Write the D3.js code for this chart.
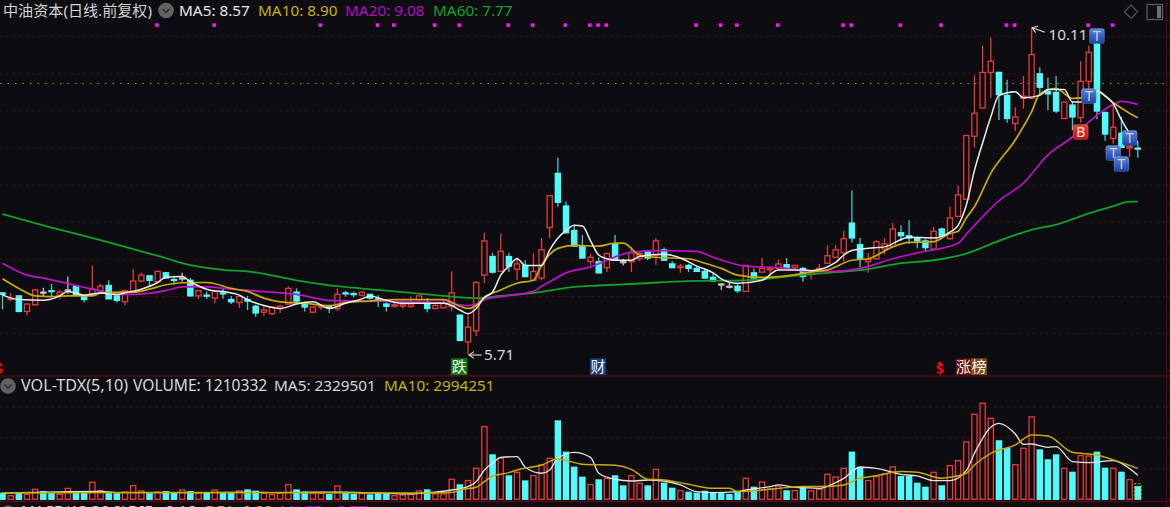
<!DOCTYPE html>
<html>

<head>
  <meta charset='utf-8'>
  <script type="text/javascript" src="https://cdn.jsdelivr.net/npm/d3@7"></script>
  <style>
    html, body { margin: 0; padding: 0; background: #0d0d11; overflow: hidden; }
    svg { display: block; }
    text { font-family: "Noto Sans", "Noto Sans CJK SC", sans-serif; }
  </style>
</head>

<body>
</body>
<script>
  let opens = [
    6.54, 6.45, 6.50, 6.29, 6.38, 6.55, 6.57, 6.51, 6.58, 6.63,
    6.49, 6.53, 6.57, 6.64, 6.50, 6.42, 6.55, 6.70, 6.77, 6.69,
    6.81, 6.72, 6.74, 6.71, 6.50, 6.51, 6.47, 6.54, 6.45, 6.41,
    6.45, 6.36, 6.28, 6.26, 6.33, 6.39, 6.55, 6.41, 6.28, 6.35,
    6.36, 6.33, 6.54, 6.53, 6.51, 6.52, 6.46, 6.39, 6.36, 6.36,
    6.36, 6.45, 6.41, 6.33, 6.34, 6.36, 6.24, 5.88, 6.03, 6.78,
    7.03, 6.83, 7.03, 6.86, 6.91, 6.71, 6.74, 7.42, 8.15, 7.71,
    7.38, 7.17, 6.96, 6.96, 6.88, 7.20, 6.96, 6.96, 7.00, 7.09,
    7.05, 7.12, 6.93, 6.88, 6.91, 6.87, 6.83, 6.75, 6.66, 6.63,
    6.63, 6.56, 6.81, 6.82, 6.85, 6.87, 6.92, 6.88, 6.87, 6.79,
    6.83, 6.94, 7.02, 7.08, 7.48, 7.19, 6.96, 7.00, 7.13, 7.17,
    7.35, 7.31, 7.28, 7.24, 7.13, 7.40, 7.27, 7.57, 7.80, 8.65,
    9.03, 9.51, 9.51, 9.20, 8.82, 9.16, 9.16, 9.49, 9.25, 9.24,
    8.89, 9.07, 8.90, 9.39, 9.89, 8.97, 8.62, 8.69, 8.49, 8.49
  ]
  let closes = [
    6.52, 6.47, 6.29, 6.39, 6.58, 6.55, 6.56, 6.55, 6.58, 6.52,
    6.45, 6.59, 6.63, 6.46, 6.44, 6.57, 6.70, 6.78, 6.71, 6.83,
    6.74, 6.71, 6.74, 6.50, 6.57, 6.50, 6.56, 6.53, 6.42, 6.49,
    6.43, 6.27, 6.31, 6.35, 6.36, 6.60, 6.43, 6.35, 6.35, 6.36,
    6.34, 6.52, 6.53, 6.52, 6.55, 6.47, 6.43, 6.36, 6.38, 6.38,
    6.39, 6.50, 6.33, 6.37, 6.41, 6.54, 5.90, 6.08, 6.68, 7.24,
    6.82, 7.10, 6.90, 6.93, 6.76, 6.83, 7.12, 7.85, 7.76, 7.35,
    7.17, 7.01, 7.02, 6.81, 7.07, 6.98, 6.96, 7.08, 7.07, 7.01,
    7.24, 6.98, 6.88, 6.90, 6.87, 6.83, 6.74, 6.70, 6.66, 6.63,
    6.57, 6.91, 6.74, 6.87, 6.87, 6.93, 6.87, 6.91, 6.76, 6.83,
    6.87, 7.04, 7.12, 7.27, 7.28, 7.00, 6.99, 7.23, 7.20, 7.40,
    7.31, 7.28, 7.24, 7.15, 7.37, 7.31, 7.55, 7.86, 8.66, 8.96,
    9.51, 9.66, 9.21, 8.89, 8.91, 9.19, 9.75, 9.31, 9.22, 8.99,
    9.11, 8.91, 9.39, 9.78, 8.99, 8.68, 8.77, 8.50, 8.51, 8.48
  ]
  let highs = [
    6.55, 6.54, 6.51, 6.40, 6.59, 6.61, 6.66, 6.58, 6.76, 6.64,
    6.52, 6.91, 6.66, 6.71, 6.53, 6.58, 6.86, 6.81, 6.77, 6.84,
    6.82, 6.77, 6.81, 6.74, 6.58, 6.56, 6.58, 6.60, 6.50, 6.50,
    6.50, 6.38, 6.36, 6.36, 6.38, 6.63, 6.60, 6.42, 6.35, 6.38,
    6.38, 6.60, 6.57, 6.56, 6.56, 6.53, 6.51, 6.41, 6.42, 6.42,
    6.49, 6.50, 6.47, 6.42, 6.44, 6.83, 6.25, 6.24, 6.70, 7.35,
    7.08, 7.34, 7.08, 7.02, 6.98, 7.07, 7.28, 7.85, 8.36, 7.77,
    7.45, 7.32, 7.07, 7.02, 7.08, 7.32, 7.00, 7.16, 7.09, 7.12,
    7.28, 7.15, 6.97, 6.93, 6.93, 6.90, 6.87, 6.82, 6.67, 6.69,
    6.66, 6.92, 6.87, 7.01, 6.90, 6.99, 7.01, 6.92, 6.89, 6.85,
    6.93, 7.18, 7.18, 7.38, 7.92, 7.28, 7.08, 7.25, 7.28, 7.48,
    7.45, 7.52, 7.30, 7.27, 7.43, 7.42, 7.70, 7.99, 8.67, 9.47,
    9.87, 9.98, 9.52, 9.41, 9.04, 9.46, 10.11, 9.58, 9.44, 9.46,
    9.12, 9.12, 9.66, 9.87, 9.95, 8.98, 9.09, 8.91, 8.58, 8.58
  ]
  let lows = [
    6.32, 6.43, 6.28, 6.24, 6.37, 6.49, 6.49, 6.46, 6.53, 6.50,
    6.41, 6.52, 6.53, 6.46, 6.41, 6.37, 6.55, 6.69, 6.63, 6.68,
    6.73, 6.65, 6.69, 6.49, 6.46, 6.46, 6.40, 6.46, 6.39, 6.34,
    6.31, 6.22, 6.23, 6.24, 6.27, 6.38, 6.40, 6.29, 6.27, 6.31,
    6.27, 6.30, 6.49, 6.48, 6.49, 6.45, 6.35, 6.29, 6.34, 6.33,
    6.34, 6.43, 6.28, 6.32, 6.33, 6.30, 5.89, 5.71, 5.96, 6.67,
    6.80, 6.82, 6.82, 6.71, 6.75, 6.70, 6.71, 7.28, 7.70, 7.34,
    7.16, 7.00, 6.91, 6.80, 6.82, 6.97, 6.91, 6.82, 6.97, 6.98,
    6.92, 6.97, 6.88, 6.81, 6.82, 6.82, 6.74, 6.70, 6.58, 6.60,
    6.54, 6.56, 6.74, 6.82, 6.78, 6.85, 6.87, 6.84, 6.69, 6.72,
    6.81, 6.93, 7.01, 6.96, 7.22, 6.89, 6.81, 6.99, 7.06, 7.16,
    7.24, 7.20, 7.14, 7.09, 7.12, 7.30, 7.26, 7.56, 7.79, 8.50,
    9.02, 9.16, 8.87, 8.83, 8.72, 9.02, 9.16, 9.22, 9.00, 8.96,
    8.88, 8.73, 8.83, 9.21, 8.88, 8.59, 8.55, 8.49, 8.37, 8.36
  ]
  // volume, unit 10k
  let volumes = [
    58, 35, 58, 48, 97, 74, 58, 48, 106, 58,
    58, 165, 84, 65, 52, 71, 132, 81, 52, 71,
    74, 58, 90, 74, 58, 58, 90, 65, 58, 81,
    90, 77, 58, 45, 58, 142, 90, 68, 58, 58,
    45, 129, 58, 45, 55, 42, 52, 52, 35, 42,
    48, 81, 90, 52, 52, 194, 139, 181, 300, 703,
    429, 397, 226, 261, 177, 229, 332, 397, 758, 455,
    310, 213, 142, 187, 203, 226, 129, 229, 155, 129,
    290, 155, 106, 84, 68, 58, 77, 65, 55, 45,
    77, 203, 116, 168, 100, 129, 81, 84, 106, 81,
    97, 242, 216, 300, 455, 310, 181, 219, 245, 313,
    219, 219, 155, 116, 261, 129, 326, 374, 555, 823,
    929, 784, 565, 490, 335, 494, 797, 477, 381, 429,
    300, 261, 423, 419, 455, 300, 300, 261, 190, 121
  ]

  let ma5Days = [0, 2, 5, 7, 8, 10, 12, 14, 15, 17, 19, 20, 22, 23, 25, 28, 29, 30, 32, 34, 36, 38, 40, 42, 44, 45, 47, 49, 51, 54, 55, 56, 57, 58, 59, 60, 61, 62, 63, 64, 66, 67, 68, 69, 70, 71, 72, 73, 74, 75, 77, 78, 81, 83, 85, 87, 88, 90, 93, 95, 98, 99, 102, 103, 104, 106, 108, 111, 114, 116, 117, 118, 119, 120, 121, 122, 124, 125, 127, 128, 130, 131, 133, 134, 135, 136, 137, 138, 139]
  let ma5 = [6.51, 6.45, 6.44, 6.50, 6.56, 6.51, 6.54, 6.52, 6.54, 6.59, 6.68, 6.75, 6.76, 6.69, 6.59, 6.54, 6.51, 6.45, 6.37, 6.33, 6.39, 6.42, 6.33, 6.40, 6.46, 6.50, 6.44, 6.40, 6.40, 6.40, 6.37, 6.31, 6.26, 6.33, 6.48, 6.55, 6.78, 6.90, 7.00, 6.91, 6.91, 7.12, 7.28, 7.38, 7.45, 7.44, 7.24, 7.05, 7.00, 6.98, 6.98, 7.03, 7.06, 7.01, 6.90, 6.81, 6.73, 6.67, 6.71, 6.85, 6.85, 6.84, 6.95, 7.05, 7.11, 7.14, 7.16, 7.29, 7.28, 7.36, 7.45, 7.72, 8.19, 8.56, 8.91, 9.20, 9.25, 9.17, 9.20, 9.28, 9.28, 9.11, 9.11, 9.26, 9.19, 9.09, 8.87, 8.69, 8.57]

  let ma10Days = [0, 2, 4, 6, 8, 11, 12, 15, 16, 18, 20, 23, 25, 28, 30, 32, 34, 37, 40, 42, 45, 48, 54, 56, 57, 58, 59, 61, 62, 63, 65, 66, 67, 68, 70, 73, 75, 76, 78, 80, 84, 86, 88, 90, 93, 96, 99, 101, 104, 106, 109, 111, 114, 116, 117, 118, 119, 121, 124, 126, 127, 129, 131, 133, 134, 136, 138, 139]
  let ma10 = [6.73, 6.60, 6.50, 6.49, 6.50, 6.50, 6.54, 6.55, 6.55, 6.59, 6.65, 6.68, 6.68, 6.60, 6.56, 6.47, 6.42, 6.40, 6.37, 6.41, 6.43, 6.45, 6.45, 6.36, 6.33, 6.37, 6.48, 6.58, 6.63, 6.67, 6.71, 6.91, 7.06, 7.14, 7.18, 7.17, 7.21, 7.21, 7.05, 7.02, 7.00, 6.94, 6.87, 6.78, 6.75, 6.77, 6.82, 6.85, 6.98, 7.00, 7.16, 7.22, 7.23, 7.34, 7.37, 7.55, 7.70, 8.15, 8.60, 8.98, 9.22, 9.29, 9.16, 9.18, 9.26, 9.10, 8.96, 8.90]

  let ma20Days = [0, 3, 5, 9, 11, 14, 16, 20, 22, 25, 28, 33, 36, 40, 45, 49, 54, 57, 58, 59, 61, 65, 66, 67, 69, 72, 74, 77, 81, 85, 87, 89, 91, 95, 99, 102, 105, 109, 112, 117, 118, 122, 125, 128, 131, 133, 136, 137, 139]
  let ma20 = [6.94, 6.78, 6.74, 6.64, 6.59, 6.52, 6.52, 6.57, 6.62, 6.62, 6.59, 6.55, 6.52, 6.44, 6.43, 6.42, 6.41, 6.37, 6.39, 6.45, 6.49, 6.56, 6.63, 6.69, 6.81, 6.89, 6.98, 7.09, 7.11, 7.10, 7.02, 6.95, 6.90, 6.88, 6.83, 6.83, 6.87, 7.00, 7.08, 7.21, 7.33, 7.78, 8.02, 8.40, 8.64, 8.84, 9.08, 9.12, 9.08]

  let ma60Days = [0, 6, 12, 17, 20, 22, 27, 30, 36, 41, 46, 50, 55, 58, 61, 65, 68, 70, 73, 77, 84, 91, 96, 101, 106, 110, 114, 118, 122, 126, 129, 133, 136, 138, 139]
  let ma60 = [7.60, 7.42, 7.25, 7.10, 7.01, 6.94, 6.85, 6.83, 6.71, 6.63, 6.58, 6.54, 6.49, 6.47, 6.50, 6.54, 6.59, 6.62, 6.64, 6.66, 6.70, 6.71, 6.76, 6.81, 6.86, 6.94, 6.98, 7.07, 7.24, 7.39, 7.46, 7.61, 7.71, 7.77, 7.77]

  let volMa5Days = [0, 12, 14, 25, 30, 33, 38, 42, 47, 50, 52, 55, 57, 58, 59, 60, 61, 63, 64, 66, 67, 68, 70, 72, 73, 75, 77, 79, 81, 83, 85, 87, 90, 91, 94, 95, 97, 98, 100, 102, 103, 105, 107, 110, 112, 114, 116, 118, 119, 121, 122, 124, 125, 126, 128, 129, 131, 133, 136, 137, 139]
  let volMa5 = [60, 77, 65, 65, 68, 65, 68, 68, 58, 52, 62, 90, 123, 171, 284, 348, 406, 413, 310, 252, 284, 397, 455, 406, 252, 194, 177, 187, 177, 139, 74, 65, 74, 90, 123, 139, 116, 113, 106, 161, 203, 310, 300, 242, 226, 181, 181, 277, 445, 697, 735, 632, 532, 535, 503, 510, 365, 355, 374, 348, 233]

  let volMa10Days = [0, 25, 50, 55, 56, 58, 59, 60, 62, 63, 66, 68, 71, 75, 77, 79, 81, 84, 87, 89, 90, 94, 96, 98, 100, 103, 105, 107, 110, 112, 115, 116, 118, 119, 121, 124, 126, 128, 131, 134, 136, 137, 139]
  let volMa10 = [62, 66, 60, 65, 90, 116, 171, 226, 258, 284, 332, 390, 339, 329, 290, 194, 187, 145, 106, 106, 74, 97, 113, 123, 123, 139, 203, 229, 268, 261, 203, 213, 252, 332, 445, 526, 623, 613, 455, 429, 381, 355, 299]

  let gridPrices = [10, 9.5, 9, 8.5, 8, 7.5, 7, 6.5, 6]
  let prevClose = 9.36
  let gridVols = [300, 600, 900]
  let markDays = [19, 26, 39, 46, 48, 53, 56, 62, 65, 69, 72, 73, 74, 85, 88, 90, 95, 103, 104, 110, 115, 123, 124, 133, 136]
  let tDays = [[134, 36], [133, 96], [136, 153], [137, 164], [138, 138]]

  let w = 1170
  let h = 507
  let bg = '#0d0d11'
  let upColor = '#e83a3a'
  let downColor = '#52fbfb'
  let gridColor = '#4c0a0c'

  let n = opens.length
  let rows = d3.range(n).map(i => ({
    i: i,
    open: opens[i],
    close: closes[i],
    high: highs[i],
    low: lows[i],
    volume: volumes[i]
  }))

  let xScale = d3.scaleLinear().domain([0, n - 1]).range([2.5, 1137.8])
  let yScale = d3.scaleLinear().domain([10, 6]).range([36, 333])
  let vScale = d3.scaleLinear().domain([0, 900]).range([499.3, 406.3])

  let svg = d3.select('body')
    .append('svg')
    .attr('width', w)
    .attr('height', h)

  svg.append('rect').attr('width', w).attr('height', h).attr('fill', bg)

  let defs = svg.append('defs')
  let blue = defs.append('linearGradient').attr('id', 'tBlue').attr('x2', 0).attr('y2', 1)
  blue.append('stop').attr('offset', 0).attr('stop-color', '#5c88d8')
  blue.append('stop').attr('offset', 1).attr('stop-color', '#1c3fa8')
  let redGrad = defs.append('linearGradient').attr('id', 'bRed').attr('x2', 0).attr('y2', 1)
  redGrad.append('stop').attr('offset', 0).attr('stop-color', '#f04030')
  redGrad.append('stop').attr('offset', 1).attr('stop-color', '#c81010')

  // grid lines
  let priceGrid = d3.axisRight(yScale).tickValues(gridPrices).tickSize(1165).tickFormat('')
  svg.append('g').attr('class', 'grid').call(priceGrid)
  let volGrid = d3.axisRight(vScale).tickValues(gridVols).tickSize(1165).tickFormat('')
  svg.append('g').attr('class', 'grid').call(volGrid)
  svg.selectAll('.grid .domain').remove()
  svg.selectAll('.grid line')
    .attr('stroke', '#5c0a0c')
    .attr('stroke-width', 1.2)
    .attr('stroke-dasharray', '1.5 5')

  svg.append('line')
    .attr('x1', 0).attr('x2', 1165)
    .attr('y1', yScale(prevClose)).attr('y2', yScale(prevClose))
    .attr('stroke', '#c87a14')
    .attr('stroke-width', 1.2)
    .attr('stroke-dasharray', '1.5 6')

  // right hand axis, no labels
  let rightPrice = d3.axisRight(yScale).tickValues(d3.range(5.25, 10.8, 0.25)).tickSize(4).tickFormat('')
  let rightVol = d3.axisRight(vScale).tickValues(d3.range(0, 951, 150)).tickSize(4).tickFormat('')
  svg.append('g').attr('class', 'rightaxis').attr('transform', 'translate(1166,0)').call(rightPrice)
  svg.append('g').attr('class', 'rightaxis').attr('transform', 'translate(1166,0)').call(rightVol)
  svg.selectAll('.rightaxis .domain').remove()
  svg.selectAll('.rightaxis line').attr('stroke', gridColor)
  svg.append('line').attr('x1', 1166.5).attr('x2', 1166.5).attr('y1', 0).attr('y2', h)
    .attr('stroke', gridColor).attr('stroke-width', 1.2)
  svg.selectAll('.sep')
    .data([376, 501.6])
    .enter()
    .append('line')
    .attr('class', 'sep')
    .attr('x1', 0).attr('x2', w)
    .attr('y1', d => d).attr('y2', d => d)
    .attr('stroke', '#560a0c')
    .attr('stroke-width', 1.5)

  function isDown(d) {
    if (d.close != d.open) return d.close < d.open
    return d.i > 0 && d.close < closes[d.i - 1]
  }
  function candleColor(d) {
    if (d.close == d.open) return '#c4c4c4'
    return d.close < d.open ? '#48c8cc' : upColor
  }

  // candles
  let candleG = svg.append('g')
  candleG.selectAll('.wick')
    .data(rows)
    .enter()
    .append('line')
    .attr('class', 'wick')
    .attr('x1', d => xScale(d.i))
    .attr('x2', d => xScale(d.i))
    .attr('y1', d => yScale(d.high))
    .attr('y2', d => yScale(d.low))
    .attr('stroke', candleColor)
    .attr('stroke-width', 1.3)

  candleG.selectAll('.body')
    .data(rows)
    .enter()
    .append('rect')
    .attr('class', 'body')
    .attr('x', d => xScale(d.i) - 2.6)
    .attr('width', 5.2)
    .attr('y', d => yScale(Math.max(d.open, d.close)))
    .attr('height', d => Math.max(1, Math.abs(yScale(d.open) - yScale(d.close))))
    .attr('fill', d => d.close == d.open ? '#c4c4c4' : (d.close < d.open ? downColor : bg))
    .attr('stroke', d => d.close == d.open ? '#c4c4c4' : (d.close < d.open ? downColor : upColor))
    .attr('stroke-width', 1.3)

  // volume bars
  let volG = svg.append('g')
  volG.selectAll('rect')
    .data(rows)
    .enter()
    .append('rect')
    .attr('x', d => xScale(d.i) - 2.6)
    .attr('width', 5.2)
    .attr('y', d => vScale(d.volume))
    .attr('height', d => vScale(0) - vScale(d.volume))
    .attr('fill', d => isDown(d) ? downColor : bg)
    .attr('stroke', d => isDown(d) ? downColor : upColor)
    .attr('stroke-width', 1.3)

  // today's unfinished volume bar
  volG.append('rect')
    .attr('x', xScale(n - 1) - 3.4)
    .attr('width', 6.8)
    .attr('y', vScale(volumes[n - 1]) - 3)
    .attr('height', vScale(0) - vScale(volumes[n - 1]) + 3)
    .attr('fill', 'none')
    .attr('stroke', '#c8b400')
    .attr('stroke-width', 1)
    .attr('stroke-dasharray', '2 2')

  // moving averages
  function drawLine(days, vals, scale, color, width) {
    let line = d3.line()
      .x((d, i) => xScale(days[i]))
      .y(d => scale(d))
      .curve(d3.curveMonotoneX)
    svg.append('path')
      .datum(vals)
      .attr('d', line)
      .attr('fill', 'none')
      .attr('stroke', color)
      .attr('stroke-width', width)
      .attr('stroke-linejoin', 'round')
  }
  drawLine(ma60Days, ma60, yScale, '#12a02c', 1.8)
  drawLine(ma20Days, ma20, yScale, '#bc12c8', 1.7)
  drawLine(ma10Days, ma10, yScale, '#c8aa08', 1.7)
  drawLine(ma5Days, ma5, yScale, '#ececec', 1.5)
  drawLine(volMa5Days, volMa5, vScale, '#e4e4e4', 1.3)
  drawLine(volMa10Days, volMa10, vScale, '#c8aa08', 1.5)

  // magenta markers along the top
  svg.selectAll('.mark')
    .data(markDays)
    .enter()
    .append('rect')
    .attr('class', 'mark')
    .attr('x', d => xScale(d) - 2.5)
    .attr('y', 23.3)
    .attr('width', 3.6)
    .attr('height', 3.6)
    .attr('fill', '#ff10ff')

  // high / low labels
  function priceFlag(txt, xFrom, xTo, yAt, textX, textY) {
    svg.append('path')
      .attr('d', 'M' + xFrom + ',' + yAt[0] + 'L' + xTo + ',' + yAt[1])
      .attr('stroke', '#e0e0e0').attr('stroke-width', 1.1).attr('fill', 'none')
    let ang = Math.atan2(yAt[0] - yAt[1], xFrom - xTo)
    let a1 = ang + 0.6, a2 = ang - 0.6
    svg.append('path')
      .attr('d', 'M' + (xTo + 6 * Math.cos(a1)) + ',' + (yAt[1] + 6 * Math.sin(a1)) +
        'L' + xTo + ',' + yAt[1] +
        'L' + (xTo + 6 * Math.cos(a2)) + ',' + (yAt[1] + 6 * Math.sin(a2)))
      .attr('stroke', '#e0e0e0').attr('stroke-width', 1.1).attr('fill', 'none')
    svg.append('text').attr('x', textX).attr('y', textY)
      .attr('fill', '#d8d8d8').attr('font-size', 15.3).text(txt)
  }
  priceFlag('10.11', 1045, xScale(126) + 0.5, [32.3, yScale(10.11)], 1048.5, 39.5)
  priceFlag('5.71', 481.7, xScale(57) + 1, [355, 355], 484, 360)

  // signal badges
  function badge(cx, cy, txt, fill, txtFill) {
    svg.append('rect')
      .attr('x', cx - 7.5).attr('y', cy - 7.5)
      .attr('width', 15).attr('height', 15)
      .attr('rx', 2.5)
      .attr('fill', fill)
      .attr('stroke', 'rgba(255,255,255,0.15)')
    svg.append('text')
      .attr('x', cx).attr('y', cy + 5)
      .attr('text-anchor', 'middle')
      .attr('font-size', 14)
      .attr('fill', txtFill)
      .text(txt)
  }
  tDays.forEach(t => badge(xScale(t[0]), t[1], 'T', 'url(#tBlue)', '#c8d4e0'))
  badge(1080.7, 132, 'B', 'url(#bRed)', '#f4e0dc')

  // event tags above the separator
  function tag(x, width, txt, fill) {
    svg.append('rect').attr('x', x).attr('y', 358.3).attr('width', width).attr('height', 16.7).attr('fill', fill)
    svg.append('text').attr('x', x + width / 2).attr('y', 372)
      .attr('text-anchor', 'middle').attr('font-size', 15)
      .attr('font-family', '"Noto Sans CJK SC"')
      .attr('fill', '#f0f0f0').text(txt)
  }
  tag(451, 16.5, '跌', '#0a7a10')
  tag(590, 16, '财', '#123f70')
  tag(956, 15, '涨', '#6a0a10')
  tag(971, 16, '榜', '#7a4a14')
  ;[-1, 940].forEach(cx => {
    svg.append('text').attr('x', cx).attr('y', 374).attr('text-anchor', 'middle')
      .attr('font-size', 14).attr('font-weight', 'bold').attr('fill', '#e80c0c').text('$')
    svg.append('path').attr('d', 'M' + (cx - 3) + ',364L' + cx + ',361L' + (cx + 3) + ',364Z').attr('fill', '#e80c0c')
  })

  // header rows
  function label(x, y, txt, color, size, family) {
    svg.append('text').attr('x', x).attr('y', y).attr('fill', color)
      .attr('font-size', size || 15.3)
      .attr('font-family', family || null)
      .text(txt)
  }
  function chevron(cx, cy) {
    svg.append('circle').attr('cx', cx).attr('cy', cy).attr('r', 7.8).attr('fill', '#626264')
    svg.append('path').attr('d', 'M' + (cx - 3.5) + ',' + (cy - 1.5) + 'L' + cx + ',' + (cy + 2) + 'L' + (cx + 3.5) + ',' + (cy - 1.5))
      .attr('fill', 'none').attr('stroke', '#2c2c2e').attr('stroke-width', 1.4)
  }
  label(3, 15.5, '中油资本(日线.前复权)', '#d4d4d4', 15.1, '"Noto Sans CJK SC"')
  chevron(166, 10.5)
  label(179, 15.5, 'MA5: 8.57', '#e4e8ec')
  label(258, 15.5, 'MA10: 8.90', '#c8b400')
  label(345, 15.5, 'MA20: 9.08', '#b40cc8')
  label(433, 15.5, 'MA60: 7.77', '#10a428')

  chevron(8, 386)
  label(21, 391, 'VOL-TDX(5,10)', '#d4d8dc', 16.2)
  label(133, 391, 'VOLUME: 1210332', '#d4d8dc', 15.6)
  label(274, 391, 'MA5: 2329501', '#d4d8dc')
  label(384, 391, 'MA10: 2994251', '#c8b400')

  chevron(8, 513)
  label(21, 516, 'MACD(12,26,9)', '#d4d8dc')
  label(128, 516, 'DIF: -0.16', '#d4d8dc')
  label(205, 516, 'DEA: 0.22', '#c8b400')
  label(280, 516, 'MACD: -0.77', '#b40cc8')

  // top right icons
  svg.append('path').attr('d', 'M1131,5L1137.5,11.7L1131,18.4L1124.5,11.7Z')
    .attr('fill', 'none').attr('stroke', '#4c4c4e').attr('stroke-width', 1.4)
  svg.append('rect').attr('x', 1147).attr('y', 4.5).attr('width', 15.5).attr('height', 15)
    .attr('fill', 'none').attr('stroke', '#58585a').attr('stroke-width', 1.3)
  svg.append('rect').attr('x', 1157).attr('y', 6).attr('width', 4).attr('height', 12).attr('fill', '#707072')
</script>

</html>
